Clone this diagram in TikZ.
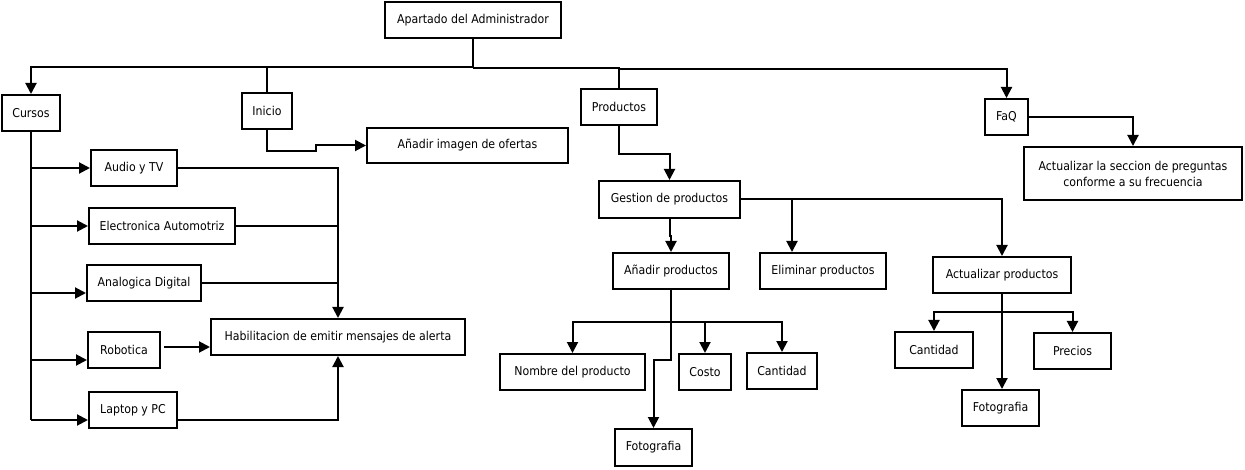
\documentclass[tikz,border=0pt]{standalone}
\usepackage{fontspec}
\setmainfont{DejaVu Sans Condensed}
\usetikzlibrary{arrows.meta,calc}
\begin{document}
\begin{tikzpicture}[x=1pt,y=-1pt,
  box/.style={draw,line width=2pt,inner sep=0pt,align=center,minimum height=36pt,font=\fontsize{12.2}{16}\selectfont},
  ln/.style={line width=2pt},
  arr/.style={line width=2pt,-{Triangle[length=11pt,width=11pt]}}]
\useasboundingbox (0,0) rectangle (1245,470);
% nodes
\node[box,minimum width=176pt] (admin) at (473,20) {Apartado del Administrador};
\node[box,minimum width=58pt] (cursos) at (31,113) {Cursos};
\node[box,minimum width=50pt] (inicio) at (267,111) {Inicio};
\node[box,minimum width=201pt,minimum height=35pt] (ofertas) at (467.5,145.5) {Añadir imagen de ofertas};
\node[box,minimum width=76pt] (productos) at (619,107) {Productos};
\node[box,minimum width=43pt] (faq) at (1006.5,117) {FaQ};
\node[box,minimum width=218pt,minimum height=53pt] (seccion) at (1133,173.5) {Actualizar la seccion de preguntas\\conforme a su frecuencia};
\node[box,minimum width=86pt] (audio) at (134,168) {Audio y TV};
\node[box,minimum width=146pt] (electro) at (162,226) {Electronica Automotriz};
\node[box,minimum width=114pt] (analog) at (144,283) {Analogica Digital};
\node[box,minimum width=72pt] (robot) at (124,350) {Robotica};
\node[box,minimum width=88pt] (laptop) at (133,410) {Laptop y PC};
\node[box,minimum width=254pt] (habil) at (338,337) {Habilitacion de emitir mensajes de alerta};
\node[box,minimum width=141pt,minimum height=37pt] (gestion) at (669.5,199.5) {Gestion de productos};
\node[box,minimum width=116pt] (anadir) at (671,271) {Añadir productos};
\node[box,minimum width=126pt] (elim) at (823,271) {Eliminar productos};
\node[box,minimum width=138pt] (actual) at (1002,275) {Actualizar productos};
\node[box,minimum width=145pt] (nombre) at (572.5,372) {Nombre del producto};
\node[box,minimum width=52pt] (costo) at (705,372) {Costo};
\node[box,minimum width=70pt] (cant1) at (782,371) {Cantidad};
\node[box,minimum width=77pt,minimum height=37pt] (foto1) at (653.5,447.5) {Fotografia};
\node[box,minimum width=78pt] (cant2) at (934,350) {Cantidad};
\node[box,minimum width=77pt] (precios) at (1072.5,351) {Precios};
\node[box,minimum width=77pt] (foto2) at (1000.5,408) {Fotografia};
% helper coordinates
\coordinate (busA) at (0,67);
\coordinate (busB) at (0,68);
\coordinate (busC) at (0,69);
\coordinate (jA) at (316,151);
\coordinate (aA) at ([yshift=-10pt]analog.west);
\coordinate (rA) at ([yshift=-10pt]robot.west);
\coordinate (lA) at ([yshift=-10pt]laptop.west);
\coordinate (lB) at ([yshift=-10pt]laptop.east);
\coordinate (hR) at ([yshift=-10pt]habil.west);
\coordinate (rE) at ([xshift=3pt]robot.east);
\coordinate (eN) at ([xshift=-31pt]elim.north);
% top connectors
\draw[arr] (admin.south) -- (admin.south |- busA) -| (cursos.north);
\draw[ln] (inicio.north) -- (inicio.north |- busA);
\draw[ln] (admin.south |- busB) -| (productos.north);
\draw[arr] (productos.north |- busC) -| (faq.north);
\draw[arr] (inicio.south) |- (jA) |- (ofertas.west);
\draw[arr] (productos.south) -- ++(0,28) -| (gestion.north);
\draw[arr] (faq.east) -| (seccion.north);
% cursos
\draw[ln] (cursos.south) -- (cursos.south |- lA);
\draw[arr] (cursos.south |- audio.west) -- (audio.west);
\draw[arr] (cursos.south |- electro.west) -- (electro.west);
\draw[arr] (cursos.south |- aA) -- (aA);
\draw[arr] (cursos.south |- rA) -- (rA);
\draw[arr] (cursos.south |- lA) -- (lA);
\draw[arr] (audio.east) -| (habil.north);
\draw[ln] (electro.east) -- (electro.east -| habil.north);
\draw[ln] (analog.east) -- (analog.east -| habil.north);
\draw[arr] (rE |- hR) -- (hR);
\draw[arr] (lB) -| (habil.south);
% gestion
\draw[arr] (gestion.south) -- ++(0,17) -| (anadir.north);
\draw[arr] (gestion.east) -| (actual.north);
\draw[arr] (eN |- gestion.east) -- (eN);
% anadir
\draw[arr] (anadir.south) -- ++(0,32) -| (nombre.north);
\draw[arr] (anadir.south) -- ++(0,32) -| (costo.north);
\draw[arr] (anadir.south) -- ++(0,32) -| (cant1.north);
\draw[arr] (anadir.south) -- ++(0,70) -| (foto1.north);
% actual
\draw[arr] (actual.south) -- ++(0,18) -| (cant2.north);
\draw[arr] (actual.south) -- ++(0,18) -| (precios.north);
\draw[arr] (actual.south) -- (actual.south |- foto2.north);
\end{tikzpicture}
\end{document}
